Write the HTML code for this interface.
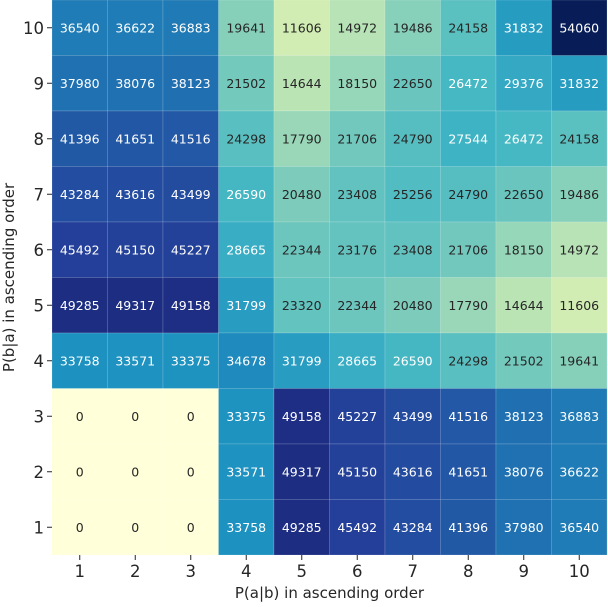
<!DOCTYPE html>
<html><head><meta charset="utf-8"><style>
body{margin:0;background:#fff;width:608px;height:602px;overflow:hidden}
svg{font-family:"DejaVu Sans","Liberation Sans",sans-serif}
</style></head><body>
<svg id="chart" width="608" height="602"></svg>
<script>
const xCategories=["1","2","3","4","5","6","7","8","9","10"];
const yCategories=["10","9","8","7","6","5","4","3","2","1"];
const row10=[36540,36622,36883,19641,11606,14972,19486,24158,31832,54060];
const row9=[37980,38076,38123,21502,14644,18150,22650,26472,29376,31832];
const row8=[41396,41651,41516,24298,17790,21706,24790,27544,26472,24158];
const row7=[43284,43616,43499,26590,20480,23408,25256,24790,22650,19486];
const row6=[45492,45150,45227,28665,22344,23176,23408,21706,18150,14972];
const row5=[49285,49317,49158,31799,23320,22344,20480,17790,14644,11606];
const row4=[33758,33571,33375,34678,31799,28665,26590,24298,21502,19641];
const row3=[0,0,0,33375,49158,45227,43499,41516,38123,36883];
const row2=[0,0,0,33571,49317,45150,43616,41651,38076,36622];
const row1=[0,0,0,33758,49285,45492,43284,41396,37980,36540];
const values=[row10,row9,row8,row7,row6,row5,row4,row3,row2,row1];
const vmin=0, vmax=54060;

const NS="http://www.w3.org/2000/svg";
const svg=document.getElementById('chart');
const L=52,T=0,W=555,H=555;
const cw=W/xCategories.length, ch=H/yCategories.length;
const xPos=i=>L+i*cw, yPos=j=>T+j*ch;
const stops=["#ffffd9","#edf8b1","#c7e9b4","#7fcdbb","#41b6c4","#1d91c0","#225ea8","#253494","#081d58"].map(h=>[1,3,5].map(k=>parseInt(h.substr(k,2),16)));
function cmap(v){let t=Math.max(0,Math.min(1,(v-vmin)/(vmax-vmin)))*(stops.length-1);let i=Math.min(Math.floor(t),stops.length-2),f=t-i;return stops[i].map((c,k)=>Math.round(c+(stops[i+1][k]-c)*f));}
function lum(c){const l=c.map(x=>{x/=255;return x<=0.03928?x/12.92:Math.pow((x+0.055)/1.055,2.4)});return 0.2126*l[0]+0.7152*l[1]+0.0722*l[2];}
function mk(tag,attrs,txt){const e=document.createElementNS(NS,tag);for(const k in attrs)e.setAttribute(k,attrs[k]);if(txt!==undefined)e.textContent=txt;svg.appendChild(e);return e;}
values.forEach((row,j)=>row.forEach((v,i)=>{
  const c=cmap(v);
  const r=mk('rect',{x:xPos(i),y:yPos(j),width:cw,height:ch,fill:`rgb(${c})`,stroke:'rgba(255,255,255,0.25)','stroke-width':0.6});
  
  
  const t=mk('text',{x:xPos(i)+cw/2,y:yPos(j)+ch/2+4.5,'text-anchor':'middle','font-size':12.5,fill:lum(c)>0.408?'#262626':'#ffffff'},String(v));
  
  
}));
xCategories.forEach((c,i)=>{
  const x=xPos(i)+cw/2;
  const tk=mk('line',{x1:x,x2:x,y1:T+H,y2:T+H+5,stroke:'#262626','stroke-width':1});
  
  
  const t=mk('text',{x:x,y:T+H+22,'text-anchor':'middle','font-size':16.5,fill:'#262626'},c);
  
  
});
yCategories.forEach((c,j)=>{
  const y=yPos(j)+ch/2;
  const tk=mk('line',{x1:L-5,x2:L,y1:y,y2:y,stroke:'#262626','stroke-width':1});
  
  
  const t=mk('text',{x:L-8,y:y+6,'text-anchor':'end','font-size':16.5,fill:'#262626'},c);
  
  
});
const xt=mk('text',{x:L+W/2,y:598,'text-anchor':'middle','font-size':15,fill:'#262626'},'P(a|b) in ascending order');


const yt=mk('text',{x:0,y:0,'text-anchor':'middle','font-size':15,fill:'#262626',transform:`translate(14,${T+H/2}) rotate(-90)`},'P(b|a) in ascending order');


</script>
</body></html>
